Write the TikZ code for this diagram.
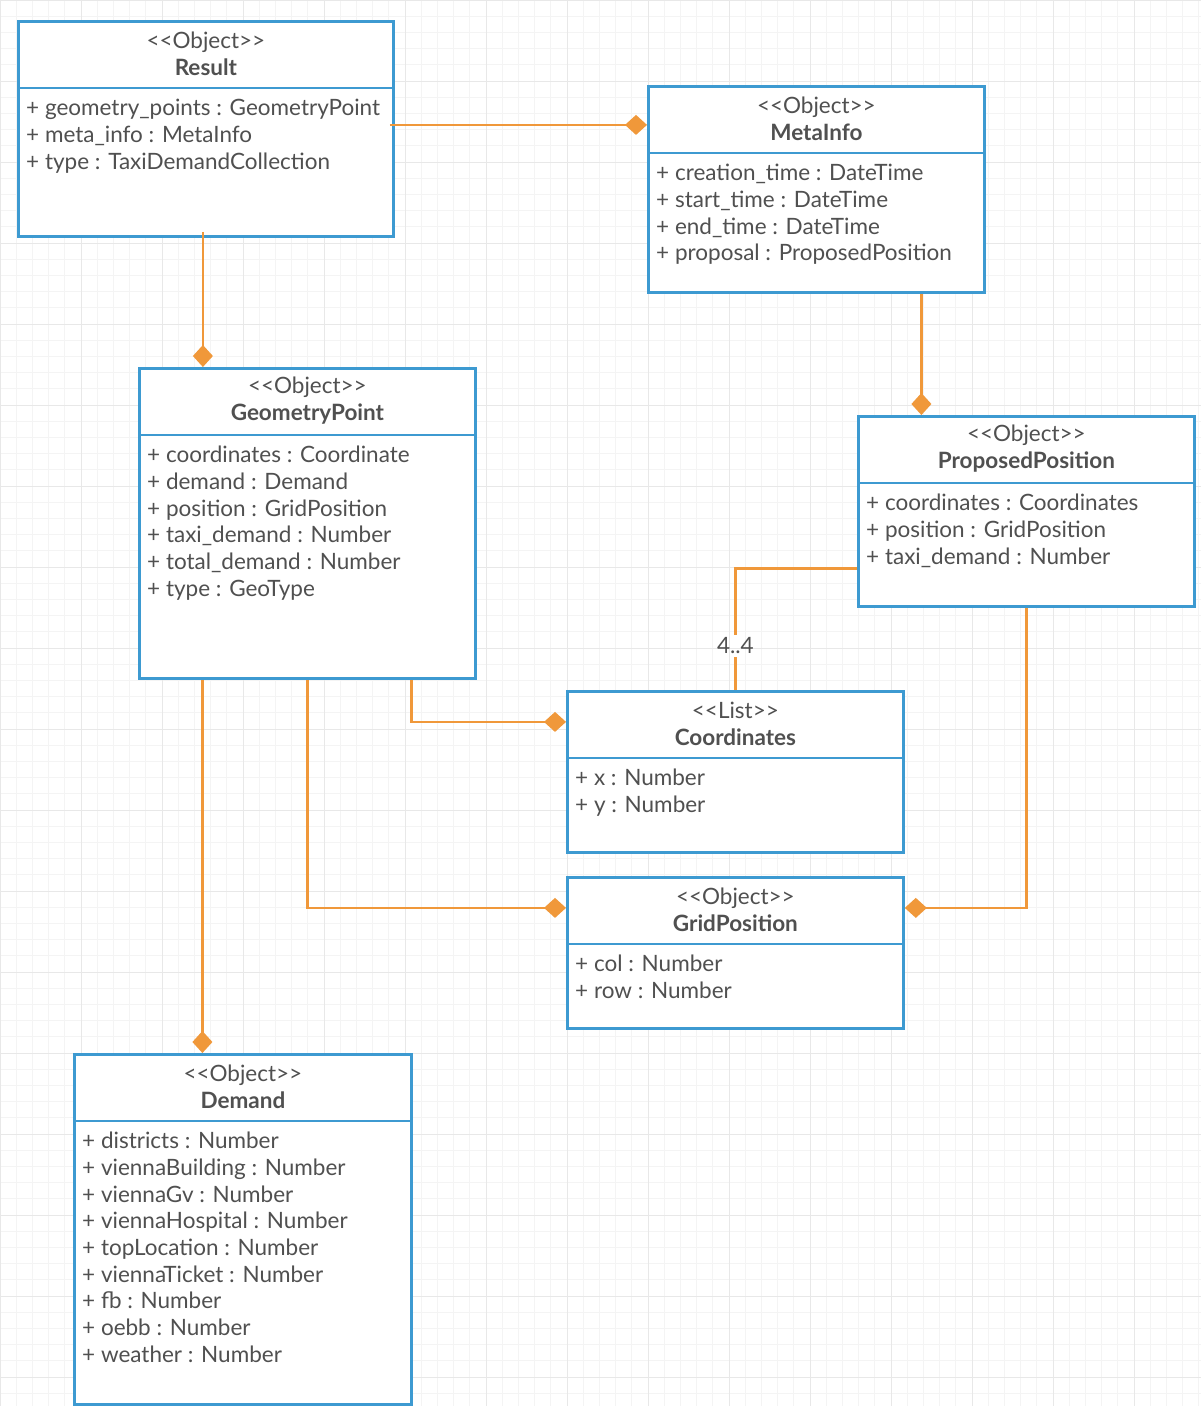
\documentclass[tikz,border=0pt]{standalone}
\usepackage{fontspec}
\setmainfont{Lato}
\usepackage{xcolor}
\usetikzlibrary{arrows.meta,positioning,calc}

\definecolor{umlblue}{HTML}{3D9AD1}
\definecolor{umlorange}{HTML}{F0983A}
\definecolor{umltext}{HTML}{505050}
\definecolor{gridminor}{HTML}{F4F4F4}
\definecolor{gridmajor}{HTML}{E8E8E8}

% one class box: name, x, y, width, height, stereotype, title, attributes
\newcommand{\umlclass}[8]{%
  \node[class box, minimum width=#4, minimum height=#5, anchor=north west] (#1) at (#2,#3) {};
  \node[class head] (#1-head) at ([yshift=-34pt]#1.north) {<\kern0pt<#6>\kern0pt>\\\bfseries #7};
  \draw[class rule] (#1.north west) ++(0,68) -- ++(#4,0);
  \node[class attr] (#1-attr) at ([xshift=9pt,yshift=-79pt]#1.north west) {#8};
}

\begin{document}
\begin{tikzpicture}[x=1pt,y=-1pt,>={Diamond[length=22pt,width=20pt]},
    class box/.style={draw=umlblue,line width=2.8pt,fill=white,inner sep=0pt},
    class rule/.style={draw=umlblue,line width=2.8pt},
    class head/.style={align=center,text=umltext,font=\fontsize{22.5}{27}\selectfont,inner sep=0pt},
    class attr/.style={anchor=north west,align=left,text=umltext,font=\fontsize{22.5}{26.7}\selectfont,inner sep=0pt},
    assoc/.style={draw=umlorange,line width=2.8pt,->},
    link/.style={draw=umlorange,line width=2.8pt},
    mult/.style={text=umltext,font=\fontsize{22.5}{24}\selectfont,inner sep=3pt}]

  \useasboundingbox (0,0) rectangle (1201,1406);
  \fill[white] (0,0) rectangle (1201,1406);
  \draw[gridminor,line width=0.8pt,step=16.2pt] (0,0) grid (1201,1406);
  \draw[gridmajor,line width=0.8pt,step=81pt] (0,0) grid (1201,1406);

  \umlclass{result}{17}{20}{375}{215}{Object}{Result}
    {+ geometry\_points : GeometryPoint\\+ meta\_info : MetaInfo\\+ type : TaxiDemandCollection}
  \umlclass{metainfo}{647}{85}{336}{206}{Object}{MetaInfo}
    {+ creation\_time : DateTime\\+ start\_time : DateTime\\+ end\_time : DateTime\\+ proposal : ProposedPosition}
  \umlclass{geopoint}{138}{367}{336}{310}{Object}{GeometryPoint}
    {+ coordinates : Coordinate\\+ demand : Demand\\+ position : GridPosition\\+ taxi\_demand : Number\\+ total\_demand : Number\\+ type : GeoType}
  \umlclass{proposed}{857}{415}{336}{190}{Object}{ProposedPosition}
    {+ coordinates : Coordinates\\+ position : GridPosition\\+ taxi\_demand : Number}
  \umlclass{coords}{566}{690}{336}{161}{List}{Coordinates}
    {+ x : Number\\+ y : Number}
  \umlclass{gridpos}{566}{876}{336}{151}{Object}{GridPosition}
    {+ col : Number\\+ row : Number}
  \umlclass{demand}{73}{1053}{337}{350}{Object}{Demand}
    {+ districts : Number\\+ viennaBuilding : Number\\+ viennaGv : Number\\+ viennaHospital : Number\\+ topLocation : Number\\+ viennaTicket : Number\\+ fb : Number\\+ oebb : Number\\+ weather : Number}

  \node[mult] (mult44) at ([yshift=44pt]coords.north) {4..4};

  % associations
  \draw[assoc] ([xshift=-5pt,yshift=4pt]result.east) -- ([yshift=4pt]result.east -| metainfo.west);
  \draw[assoc] ([xshift=-3pt,yshift=6pt]result.south) -- ([xshift=-3pt]result.south |- geopoint.north);
  \draw[assoc] ([xshift=105pt]metainfo.south) -- ([xshift=105pt]metainfo.south |- proposed.north);
  \draw[link] ([yshift=-57pt]proposed.west) -| (mult44.north);
  \draw[link] (mult44.south) -- (coords.north);
  \draw[assoc] ([xshift=104pt]geopoint.south) |- ([yshift=50pt]coords.west);
  \draw[assoc] (geopoint.south) |- ([yshift=45pt]gridpos.west);
  \draw[assoc] (proposed.south) |- ([yshift=45pt]gridpos.east);
  \draw[assoc] ([xshift=-105pt]geopoint.south) -- ([xshift=-105pt]geopoint.south |- demand.north);
\end{tikzpicture}
\end{document}
